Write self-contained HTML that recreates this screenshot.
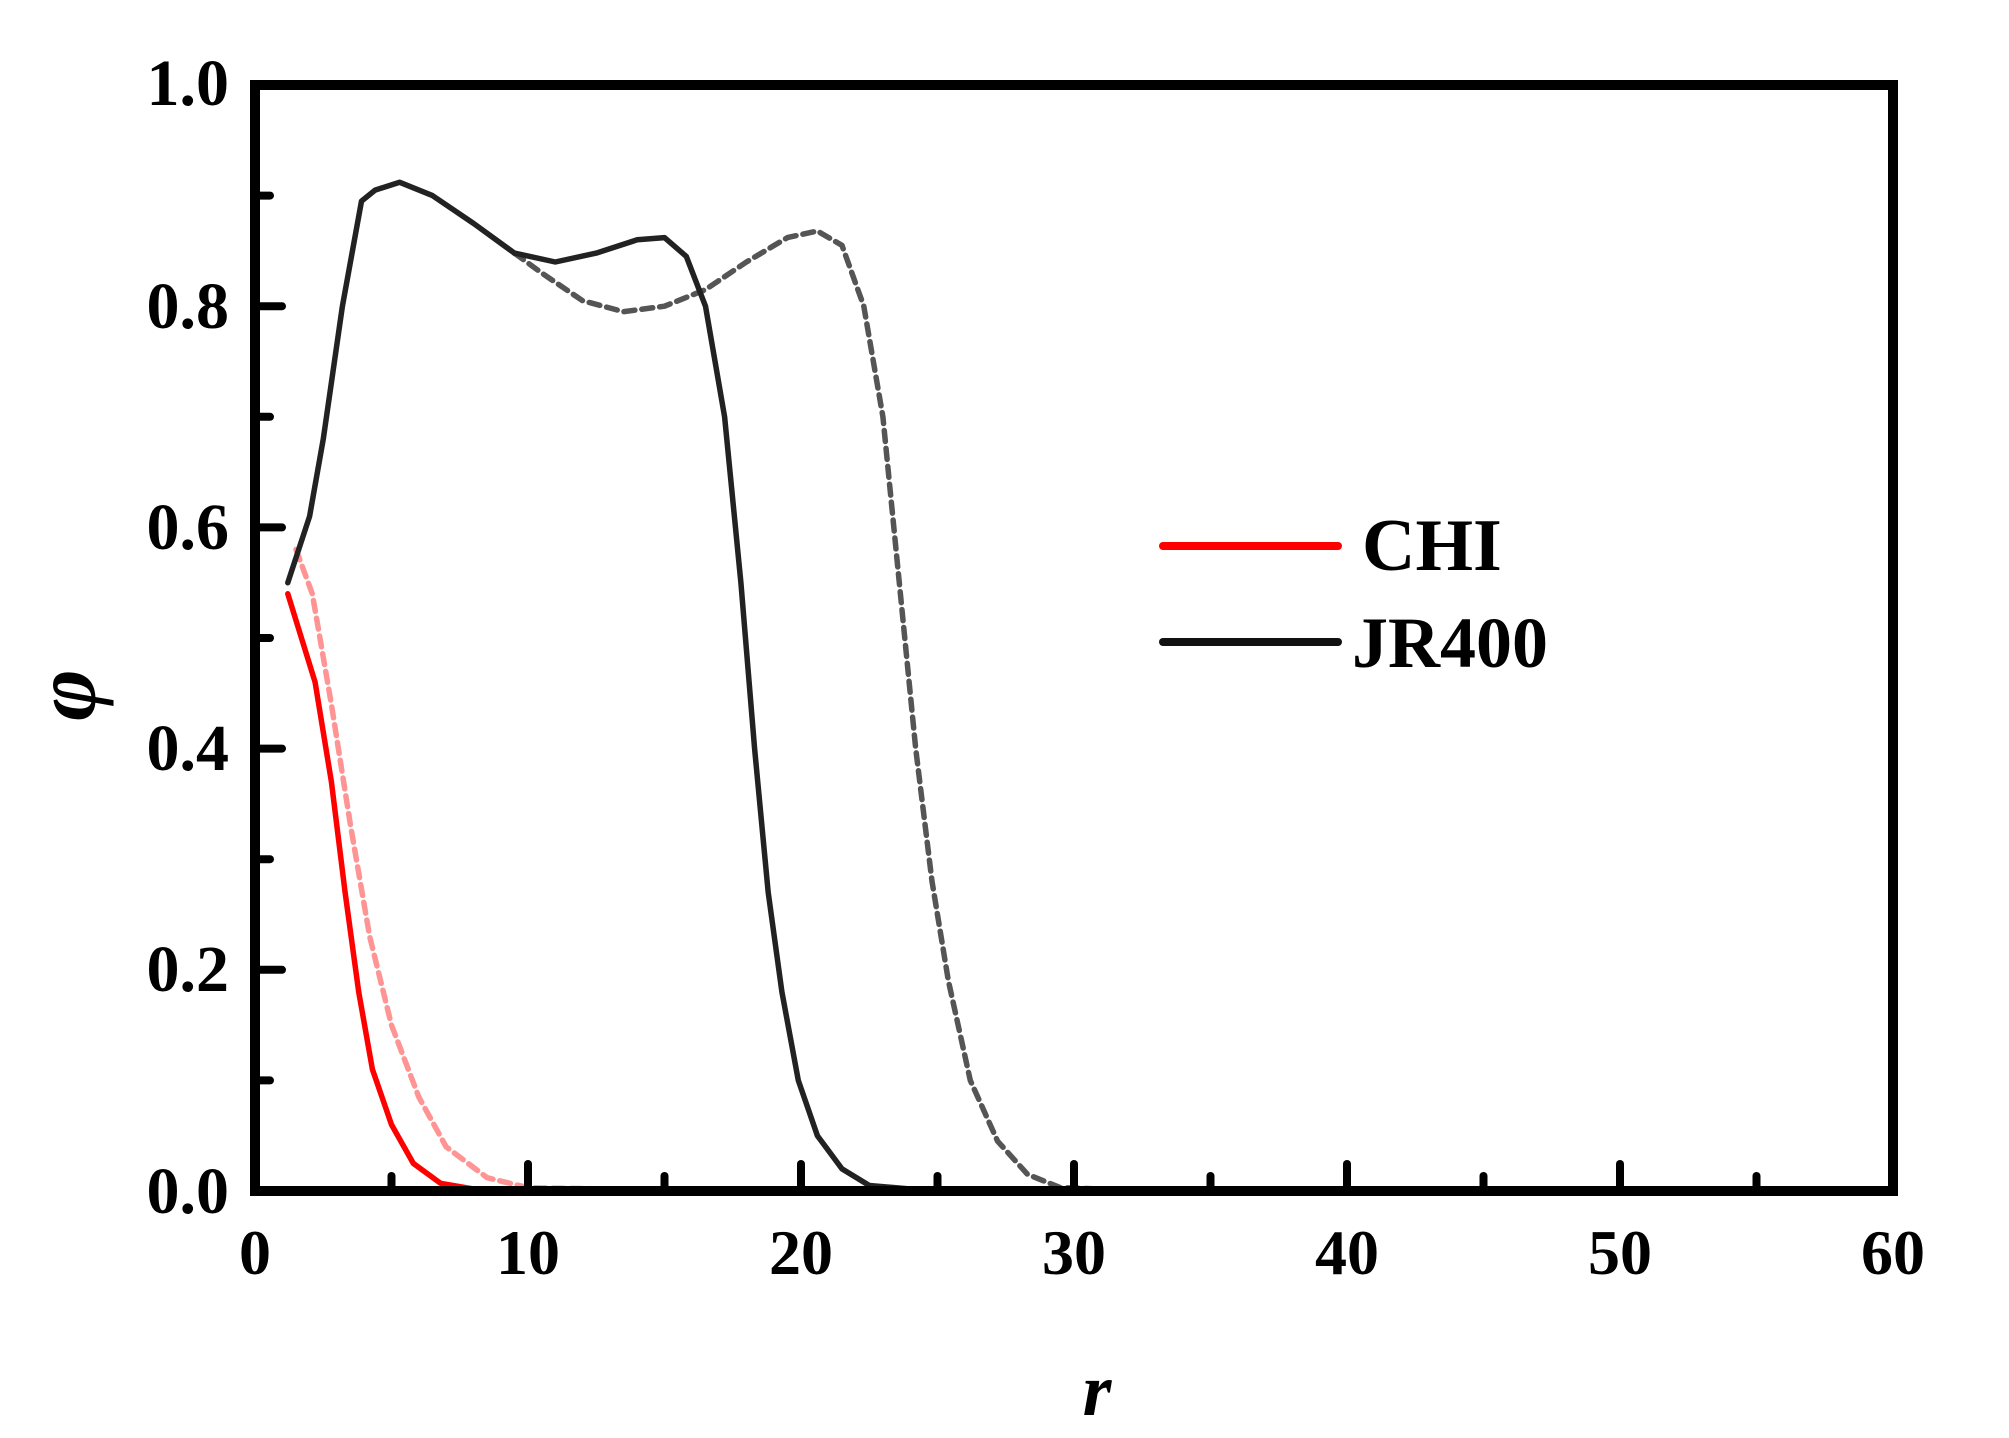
<!DOCTYPE html>
<html><head><meta charset="utf-8"><style>html,body{margin:0;padding:0;background:#fff}</style></head>
<body>
<svg width="2009" height="1433" viewBox="0 0 2009 1433" xmlns="http://www.w3.org/2000/svg" font-family="'Liberation Serif', serif" font-weight="bold">
<rect width="2009" height="1433" fill="#fff"/>
<g fill="none" stroke-linejoin="round" stroke-linecap="round">
<polyline stroke="#ff4d4d" stroke-opacity="0.6" stroke-width="5.5" stroke-dasharray="11 7" points="296,549.5 312.3,593.8 331.4,704.4 350.6,826 369.7,936.6 391.5,1025.1 418.8,1097 446.1,1146.8 487.1,1177.7 528,1187.7 610,1189"/>
<polyline stroke="#ff0000" stroke-width="5.5" points="287.8,593.8 315.1,682.2 331.4,781.8 345.1,892.4 358.7,991.9 372.4,1069.3 391.5,1124.6 413.3,1163.4 440.6,1183.3 473.4,1189"/>
<polyline stroke="#555" stroke-width="5.5" stroke-dasharray="11 7" points="514.4,253.1 541.7,273 582.6,300.7 623.6,311.7 664.5,306.2 705.5,289.6 746.4,262 787.4,237.6 817.4,231 842,245.4 863.8,306.2 882.9,416.8 899.3,582.7 915.7,748.6 932,881.3 948.4,980.9 970.3,1080.4 997.6,1141.2 1027.6,1174.4 1060.4,1187.7 1101,1189"/>
<polyline stroke="#222" stroke-width="5.5" points="287.8,582.7 309.6,516.3 323.3,438.9 342.4,306.2 361.5,201.1 375.1,190.1 399.7,182.3 432.5,195.6 473.4,223.3 514.4,253.1 555.3,262 596.3,253.1 637.2,239.8 664.5,237.6 686.3,256.4 705.5,306.2 724.6,416.8 740.9,582.7 754.6,748.6 768.2,892.4 781.9,991.9 798.3,1080.4 817.4,1135.7 842,1168.9 869.3,1185.5 910.2,1189"/>
</g>
<rect x="255" y="85" width="1638" height="1106" fill="none" stroke="#000" stroke-width="10"/>
<g stroke="#000" stroke-width="8" stroke-linecap="round">
<line x1="391.5" y1="1186" x2="391.5" y2="1176"/>
<line x1="528" y1="1186" x2="528" y2="1164"/>
<line x1="664.5" y1="1186" x2="664.5" y2="1176"/>
<line x1="801" y1="1186" x2="801" y2="1164"/>
<line x1="937.5" y1="1186" x2="937.5" y2="1176"/>
<line x1="1074" y1="1186" x2="1074" y2="1164"/>
<line x1="1210.5" y1="1186" x2="1210.5" y2="1176"/>
<line x1="1347" y1="1186" x2="1347" y2="1164"/>
<line x1="1483.5" y1="1186" x2="1483.5" y2="1176"/>
<line x1="1620" y1="1186" x2="1620" y2="1164"/>
<line x1="1756.5" y1="1186" x2="1756.5" y2="1176"/>
<line x1="260" y1="1080.4" x2="270" y2="1080.4"/>
<line x1="260" y1="969.8" x2="282" y2="969.8"/>
<line x1="260" y1="859.2" x2="270" y2="859.2"/>
<line x1="260" y1="748.6" x2="282" y2="748.6"/>
<line x1="260" y1="638" x2="270" y2="638"/>
<line x1="260" y1="527.4" x2="282" y2="527.4"/>
<line x1="260" y1="416.8" x2="270" y2="416.8"/>
<line x1="260" y1="306.2" x2="282" y2="306.2"/>
<line x1="260" y1="195.6" x2="270" y2="195.6"/>
</g>
<g font-size="66" text-anchor="end" fill="#000">
<text x="229" y="1213">0.0</text>
<text x="229" y="991">0.2</text>
<text x="229" y="770">0.4</text>
<text x="229" y="549">0.6</text>
<text x="229" y="328">0.8</text>
<text x="229" y="105">1.0</text>
</g>
<g font-size="64" text-anchor="middle" fill="#000">
<text x="255" y="1274">0</text>
<text x="528" y="1274">10</text>
<text x="801" y="1274">20</text>
<text x="1074" y="1274">30</text>
<text x="1347" y="1274">40</text>
<text x="1620" y="1274">50</text>
<text x="1893" y="1274">60</text>
</g>
<text x="1097" y="1415" font-size="74" font-style="italic" text-anchor="middle">r</text>
<text transform="translate(95,695) rotate(-90)" font-size="88" font-style="italic" text-anchor="middle">φ</text>
<line x1="1163" y1="546" x2="1338" y2="546" stroke="#ff0000" stroke-width="8" stroke-linecap="round"/>
<line x1="1163" y1="642" x2="1338" y2="642" stroke="#111" stroke-width="8" stroke-linecap="round"/>
<text x="1362" y="570" font-size="74">CHI</text>
<text x="1352" y="667" font-size="72">JR400</text>
</svg>
</body></html>
